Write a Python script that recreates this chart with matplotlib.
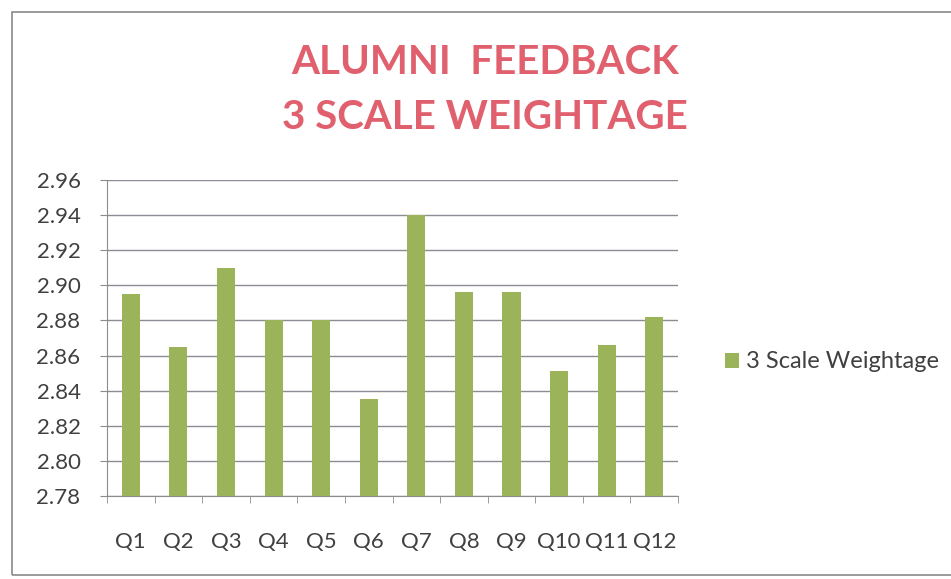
import matplotlib.pyplot as plt
from matplotlib.patches import Rectangle, Patch

# values
questions = ['Q1', 'Q2', 'Q3', 'Q4', 'Q5', 'Q6', 'Q7', 'Q8', 'Q9', 'Q10', 'Q11', 'Q12']
weightage = [2.895, 2.865, 2.910, 2.880, 2.880, 2.835, 2.940, 2.896, 2.896, 2.851, 2.866, 2.882]
y_ticks = [2.78, 2.80, 2.82, 2.84, 2.86, 2.88, 2.90, 2.92, 2.94, 2.96]

bar_color = '#9bb45a'
text_color = '#404040'
title_color = '#e0606e'

plt.rcParams['font.family'] = ['Lato', 'DejaVu Sans']

fig = plt.figure(figsize=(9.51, 5.79), dpi=100)
ax = fig.add_axes([0.1125, 0.1434, 0.6005, 0.5458])

# chart frame
fig.patches.append(Rectangle((12 / 951, 4 / 579), 1.0, 563 / 579, transform=fig.transFigure,
                             fill=False, edgecolor='#8a8a8a', linewidth=1.2))

x = list(range(len(questions)))
ax.bar(x, weightage, width=0.38, color=bar_color, zorder=3)

ax.set_ylim(2.78, 2.96)
ax.set_xlim(-0.5, len(questions) - 0.5)
ax.set_yticks(y_ticks)
ax.set_yticklabels(['%.2f' % v for v in y_ticks])
ax.yaxis.grid(True, color='#8c8c94', linewidth=1.0, zorder=0)

ax.set_xticks(x)
ax.set_xticklabels(questions)
ax.set_xticks([i - 0.5 for i in range(len(questions) + 1)], minor=True)
ax.tick_params(axis='x', which='major', length=0, pad=26, labelsize=16, labelcolor=text_color)
ax.tick_params(axis='x', which='minor', length=5, direction='out', color='#8c8c8c')
ax.tick_params(axis='y', length=5, direction='out', color='#8c8c8c', labelsize=16,
               labelcolor=text_color, pad=14)

for s in ['top', 'right']:
    ax.spines[s].set_visible(False)
ax.spines['left'].set_color('#8c8c8c')
ax.spines['bottom'].set_color('#8c8c8c')

fig.text(0.51, 0.892, 'ALUMNI  FEEDBACK', ha='center', va='center', fontsize=29,
         fontweight='bold', color=title_color)
fig.text(0.51, 0.797, '3 SCALE WEIGHTAGE', ha='center', va='center', fontsize=29,
         fontweight='bold', color=title_color)

handle = Patch(facecolor=bar_color, edgecolor='none')
fig.legend([handle], ['3 Scale Weightage'], loc='center left', bbox_to_anchor=(0.74, 0.375),
           frameon=False, fontsize=17, labelcolor=text_color, handlelength=0.6,
           handleheight=0.6, handletextpad=0.3)

fig.savefig('out.png', dpi=100)
